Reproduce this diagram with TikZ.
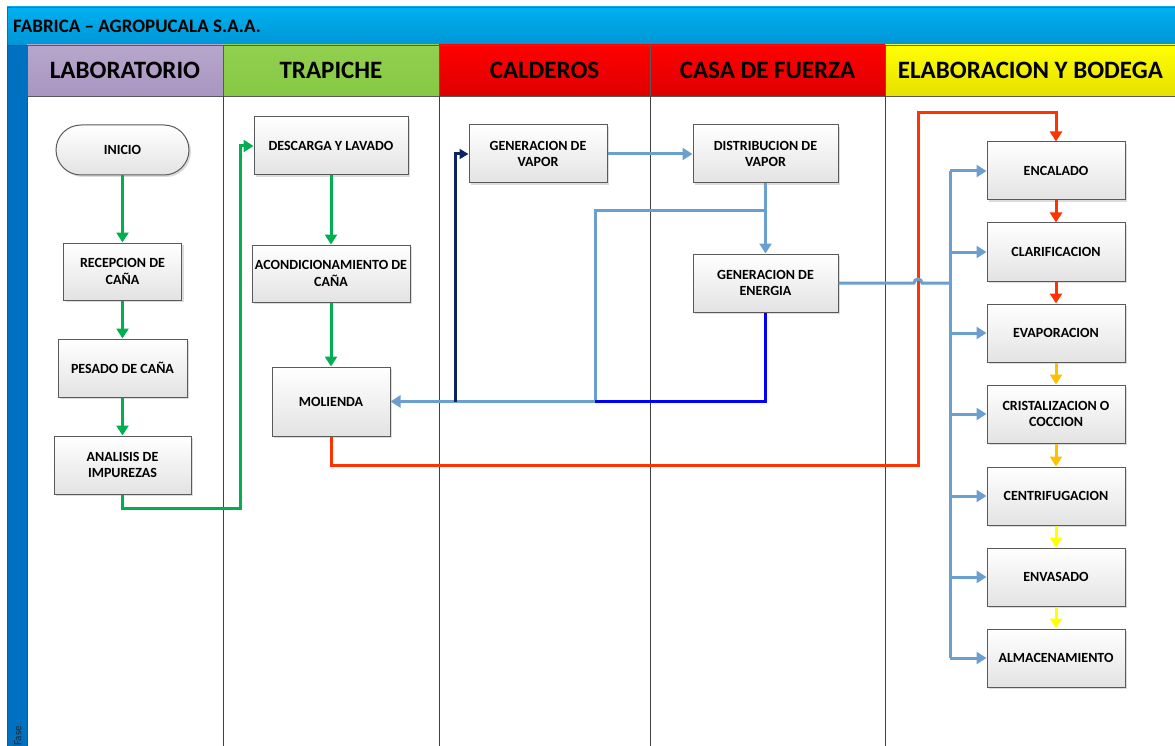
\documentclass[tikz,border=0pt]{standalone}
\usepackage{fontspec}
\setmainfont{Carlito}
\usetikzlibrary{arrows.meta,shadows}

\definecolor{titletop}{HTML}{00B0F0}
\definecolor{titlebot}{HTML}{0096D6}
\definecolor{stripblue}{HTML}{0070C0}
\definecolor{labtop}{HTML}{B7A6CC}
\definecolor{labbot}{HTML}{A996C0}
\definecolor{traptop}{HTML}{92D050}
\definecolor{trapbot}{HTML}{86C843}
\definecolor{redtop}{HTML}{FF0000}
\definecolor{redbot}{HTML}{DE0000}
\definecolor{yeltop}{HTML}{FFFF00}
\definecolor{yelbot}{HTML}{E6E000}
\definecolor{flowgreen}{HTML}{00B050}
\definecolor{steam}{HTML}{6A9FD0}
\definecolor{navyline}{HTML}{0C2462}
\definecolor{powerblue}{HTML}{0000FF}
\definecolor{juicered}{HTML}{FF3300}
\definecolor{syruporange}{HTML}{FFC000}
\definecolor{sugaryellow}{HTML}{FFFF00}
\definecolor{boxedge}{HTML}{5A5A5A}

\tikzset{
  lanehead/.style={draw=gray!70!black, line width=0.8pt, inner sep=0pt,
    font=\fontsize{25}{29}\selectfont\bfseries},
  procbox/.style={draw=boxedge, line width=1pt, top color=white, bottom color=gray!22,
    drop shadow={shadow xshift=2pt, shadow yshift=-2pt, fill=gray!45, opacity=0.6},
    inner sep=0pt, align=center, font=\fontsize{14}{16.5}\selectfont\bfseries},
  elabbox/.style={procbox, minimum width=138pt, minimum height=58pt},
  tip/.style={-{Triangle[length=10pt,width=12pt]}},
  flow/.style={line width=3pt},
  greenflow/.style={flow, draw=flowgreen},
  steamflow/.style={flow, draw=steam},
  juiceflow/.style={flow, draw=juicered},
  laneline/.style={draw=black!75, line width=0.8pt}
}

\begin{document}
\begin{tikzpicture}[x=1pt,y=-1pt]
\useasboundingbox (0,0) rectangle (1175,746);
\fill[white] (0,0) rectangle (1175,746);

% pool title bar
\shade[top color=titletop, bottom color=titlebot] (7,7) rectangle (1180,45);
\draw[gray!70!black, line width=0.8pt] (7,7) rectangle (1180,45);
\node[anchor=west, inner sep=0pt, font=\fontsize{19}{22}\selectfont\bfseries] (title) at (13,26) {FABRICA – AGROPUCALA S.A.A.};

% phase strip on the left
\fill[stripblue] (7,45) rectangle (27,750);
\draw[gray!60!black, line width=0.8pt] (7,45) rectangle (27,750);
\node[rotate=90, inner sep=0pt, text=black!85, font=\fontsize{11}{12}\selectfont] (fase) at (18,736) {Fase};

% lane headers
\node[lanehead, top color=labtop, bottom color=labbot, minimum width=196pt, minimum height=51pt] (hlab) at (125,70.5) {LABORATORIO};
\node[lanehead, top color=traptop, bottom color=trapbot, minimum width=216pt, minimum height=51pt] (htrap) at (331,70.5) {TRAPICHE};
\node[lanehead, top color=redtop, bottom color=redbot, minimum width=211pt, minimum height=51pt] (hcald) at (544.5,70.5) {CALDEROS};
\node[lanehead, top color=redtop, bottom color=redbot, minimum width=235pt, minimum height=51pt] (hcasa) at (767.5,70.5) {CASA DE FUERZA};
\node[lanehead, top color=yeltop, bottom color=yelbot, minimum width=290pt, minimum height=51pt, anchor=west] (helab) at (885,70.5) {ELABORACION Y BODEGA};

% lane separators
\draw[laneline] (223,96) -- (223,750);
\draw[laneline] (439,96) -- (439,750);
\draw[laneline] (650,96) -- (650,750);
\draw[laneline] (885,96) -- (885,750);

% LABORATORIO
\node[procbox, rounded corners=25pt, minimum width=133pt, minimum height=50pt] (inicio) at (122.5,150) {INICIO};
\node[procbox, minimum width=118pt, minimum height=57pt] (recep) at (122.5,271.5) {RECEPCION DE\\CAÑA};
\node[procbox, minimum width=129pt, minimum height=58pt] (pesado) at (122.5,368) {PESADO DE CAÑA};
\node[procbox, minimum width=137pt, minimum height=58pt] (analisis) at (122.5,465) {ANALISIS DE\\IMPUREZAS};

% TRAPICHE
\node[procbox, minimum width=154pt, minimum height=58pt] (descarga) at (331,146) {DESCARGA Y LAVADO};
\node[procbox, minimum width=158pt, minimum height=57pt] (acond) at (331,273.5) {ACONDICIONAMIENTO DE\\CAÑA};
\node[procbox, minimum width=118pt, minimum height=69pt] (molienda) at (331,401.5) {MOLIENDA};

% CALDEROS and CASA DE FUERZA
\node[procbox, minimum width=138pt, minimum height=58pt] (genvapor) at (538,154) {GENERACION DE\\VAPOR};
\node[procbox, minimum width=145pt, minimum height=58pt] (distrib) at (765.5,154) {DISTRIBUCION DE\\VAPOR};
\node[procbox, minimum width=145pt, minimum height=58pt] (genenergia) at (765.5,283) {GENERACION DE\\ENERGIA};

% ELABORACION Y BODEGA
\node[elabbox] (encalado) at (1056,171) {ENCALADO};
\node[elabbox] (clarif) at (1056,252) {CLARIFICACION};
\node[elabbox] (evap) at (1056,333) {EVAPORACION};
\node[elabbox] (crist) at (1056,414) {CRISTALIZACION O\\COCCION};
\node[elabbox] (centrif) at (1056,496) {CENTRIFUGACION};
\node[elabbox] (envas) at (1056,577) {ENVASADO};
\node[elabbox] (almac) at (1056,658) {ALMACENAMIENTO};

% routing points
\coordinate (gturn) at (240,508);
\coordinate (navyfoot) at (455,401.5);
\coordinate (steamsplit) at (765.5,211);
\coordinate (steamdrop) at (595,401.5);
\coordinate (hop) at (914,283);
\coordinate (bus) at (950,283);
\coordinate (redlow) at (918,465);
\coordinate (redhigh) at (918,113);

% cane reception flow
\draw[greenflow, tip] (inicio) -- (recep);
\draw[greenflow, tip] (recep) -- (pesado);
\draw[greenflow, tip] (pesado) -- (analisis);
\draw[greenflow, tip] (analisis.south) |- (gturn) |- (descarga.west);
\draw[greenflow, tip] (descarga) -- (acond);
\draw[greenflow, tip] (acond) -- (molienda);

% steam and power
\draw[steamflow, tip] (steamsplit) -| (steamdrop) -- (molienda.east);
\draw[flow, draw=powerblue] (genenergia.south) |- (steamdrop);
\draw[flow, draw=navyline, -{Triangle[length=9pt,width=10pt]}] (navyfoot) |- (genvapor.west);
\draw[steamflow, tip] (genvapor.east) -- (distrib.west);
\draw[steamflow, tip] (distrib.south) -- (genenergia.north);

% juice line from the mill
\draw[juiceflow, tip] (molienda.south) |- (redlow) -- (redhigh) -| (encalado.north);

% steam bus feeding the process stages
\draw[steamflow] (genenergia.east) -- (hop) arc[start angle=180, end angle=360, radius=4] -- (bus);
\draw[steamflow] (bus |- encalado.west) -- (bus |- almac.west);
\foreach \b in {encalado,clarif,evap,crist,centrif,envas,almac}
  \draw[steamflow, tip] (bus |- \b.west) -- (\b.west);

% process chain
\draw[juiceflow, tip] (encalado) -- (clarif);
\draw[juiceflow, tip] (clarif) -- (evap);
\draw[flow, draw=syruporange, tip] (evap) -- (crist);
\draw[flow, draw=syruporange, tip] (crist) -- (centrif);
\draw[flow, draw=sugaryellow, tip] (centrif) -- (envas);
\draw[flow, draw=sugaryellow, tip] (envas) -- (almac);
\end{tikzpicture}
\end{document}
